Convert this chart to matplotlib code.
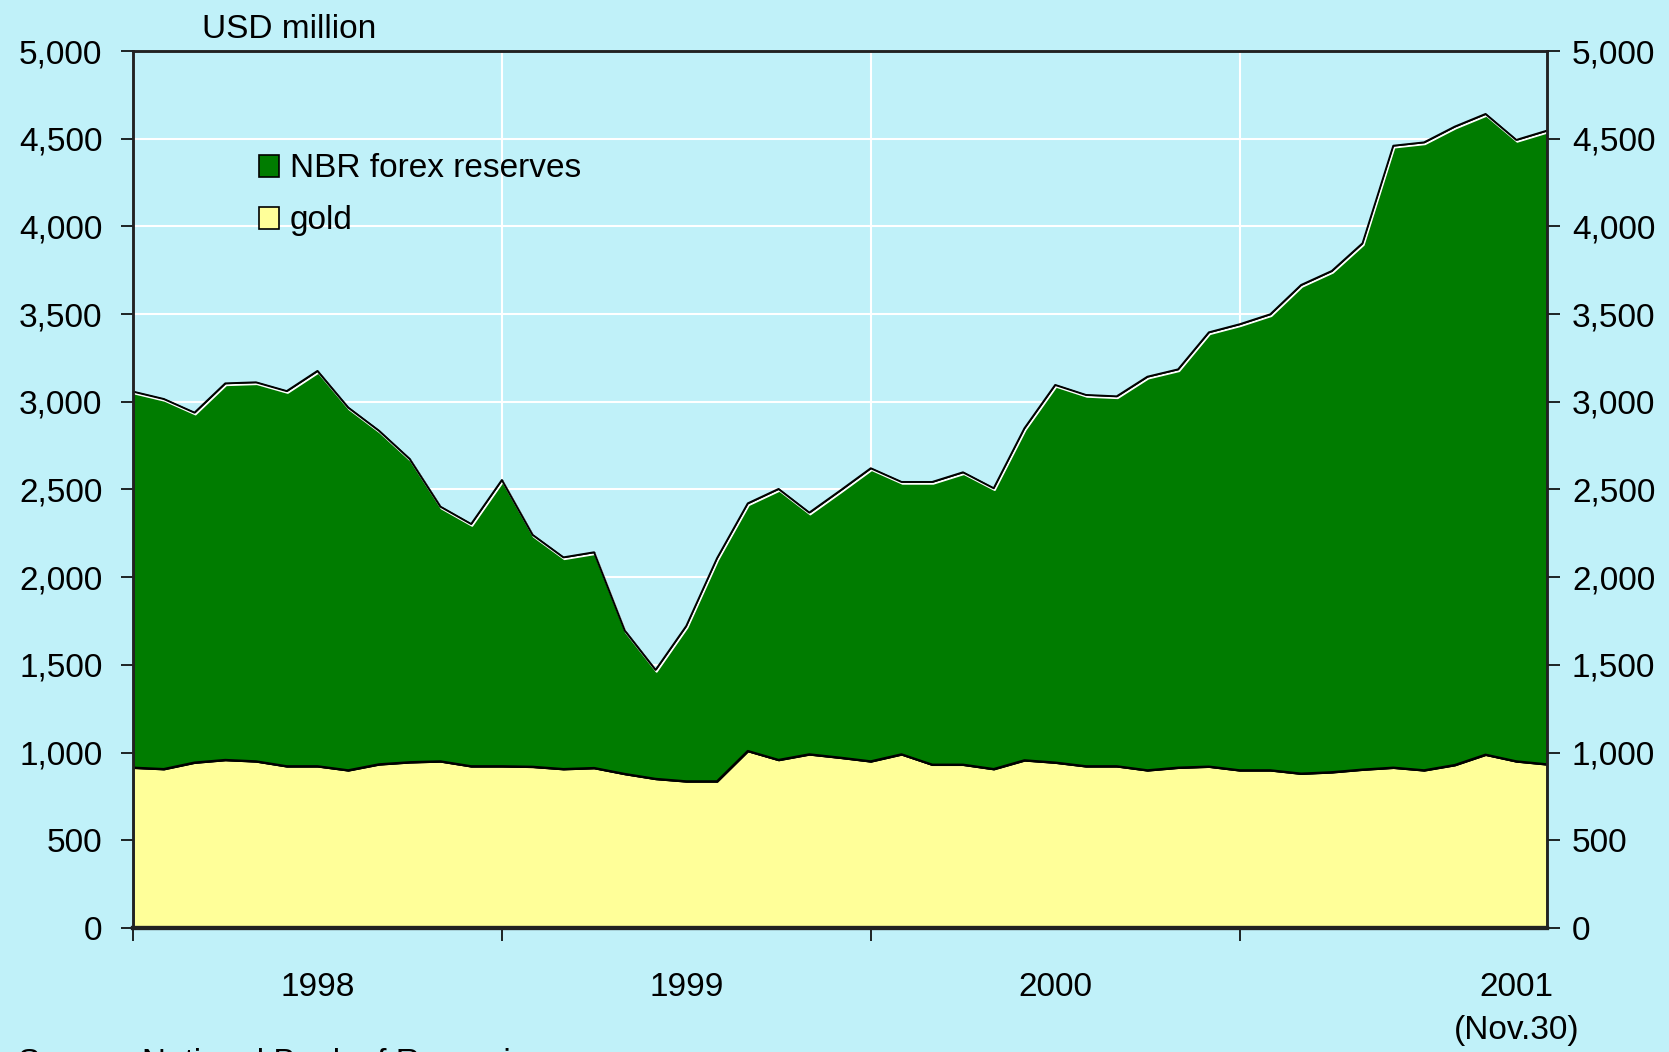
import numpy as np
import matplotlib.pyplot as plt
import matplotlib.patheffects as pe
import matplotlib.transforms as mtrans
from matplotlib.patches import Rectangle

plt.rcParams['font.family'] = ['Liberation Sans', 'DejaVu Sans']

# monthly values, Jan 1998 .. Nov 2001 (USD million)
total = [3058, 3016, 2938, 3105, 3111, 3061, 3176, 2967, 2835, 2674, 2402, 2303,
         2554, 2241, 2113, 2142, 1695, 1471, 1722, 2108, 2421, 2503, 2368, 2493,
         2621, 2543, 2543, 2598, 2507, 2849, 3096, 3039, 3031, 3143, 3185, 3396,
         3442, 3499, 3666, 3746, 3904, 4460, 4479, 4569, 4641, 4493, 4546]
gold = [914, 906, 943, 958, 950, 922, 922, 899, 933, 945, 950, 922,
        922, 919, 906, 912, 878, 850, 836, 836, 1009, 958, 990, 971,
        950, 990, 931, 931, 906, 956, 943, 922, 922, 899, 914, 920,
        899, 899, 880, 888, 903, 914, 899, 929, 988, 950, 933]
years = ['1998', '1999', '2000', '2001']
year_pos = [6, 18, 30, 45]
yticks = np.arange(0, 5001, 500)

bg = '#C0F1F9'
green = '#007C00'
yellow = '#FFFF99'

x = np.arange(len(total))

fig = plt.figure(figsize=(16.69, 10.52), dpi=100, facecolor=bg)
ax = fig.add_axes([0.0797, 0.1179, 0.8472, 0.8336])
ax.set_facecolor(bg)

ax.fill_between(x, 0, gold, color=yellow, edgecolor='black', linewidth=1.2, zorder=2)
ax.fill_between(x, gold, total, color=green, edgecolor='black', linewidth=1.2, zorder=2)
ax.plot(x, total, color='black', lw=1.4, zorder=3,
        path_effects=[pe.SimpleLineShadow(offset=(0.8, -1.3), shadow_color='white', alpha=1),
                      pe.Normal()])
ax.plot(x, gold, color='black', lw=1.6, zorder=3)

ax.set_xlim(0, len(total) - 1)
ax.set_ylim(0, 5000)
ax.set_yticks(yticks)
ax.set_yticklabels([f'{v:,}' for v in yticks])
ax.set_xticks([0, 12, 24, 36])
ax.set_xticklabels([])

ax.grid(True, color='white', linewidth=1.5, zorder=1)
ax.set_axisbelow(True)

ax.tick_params(axis='y', direction='out', length=9, width=1.2, pad=13, labelsize=24)
ax.tick_params(axis='x', direction='out', length=9, width=1.2)

# right-hand scale
ax2 = ax.twinx()
ax2.set_ylim(0, 5000)
ax2.set_yticks(yticks)
ax2.set_yticklabels([f'{v:,}' for v in yticks])
ax2.tick_params(axis='y', direction='out', length=9, width=1.2, pad=9, labelsize=24)

for a in (ax, ax2):
    for side in ['left', 'right', 'top']:
        a.spines[side].set_linewidth(1.8)
        a.spines[side].set_color('#222222')
    a.spines['bottom'].set_linewidth(3)
    a.spines['bottom'].set_color('#222222')
    for s in a.spines.values():
        s.set_zorder(4)

# year labels
trans = mtrans.blended_transform_factory(ax.transData, fig.transFigure)
for lab, p in zip(years, year_pos):
    ax.text(p, 0.0615, lab, transform=trans, ha='center', va='center', fontsize=24)
ax.text(45, 0.0205, '(Nov.30)', transform=trans, ha='center', va='center', fontsize=24)

fig.text(0.121, 0.9715, 'USD million', ha='left', va='center', fontsize=24)

# legend
fig.add_artist(Rectangle((0.1552, 0.8317), 0.012, 0.0209, transform=fig.transFigure,
                         facecolor=green, edgecolor='black', linewidth=1.2))
fig.add_artist(Rectangle((0.1552, 0.7822), 0.012, 0.0209, transform=fig.transFigure,
                         facecolor=yellow, edgecolor='black', linewidth=1.2))
fig.text(0.1738, 0.840, 'NBR forex reserves', ha='left', va='center', fontsize=24)
fig.text(0.1738, 0.7905, 'gold', ha='left', va='center', fontsize=24)

fig.text(0.011, -0.019, 'Source: National Bank of Romania', ha='left', va='baseline', fontsize=24)

fig.savefig('out.png', dpi=100, facecolor=bg)
